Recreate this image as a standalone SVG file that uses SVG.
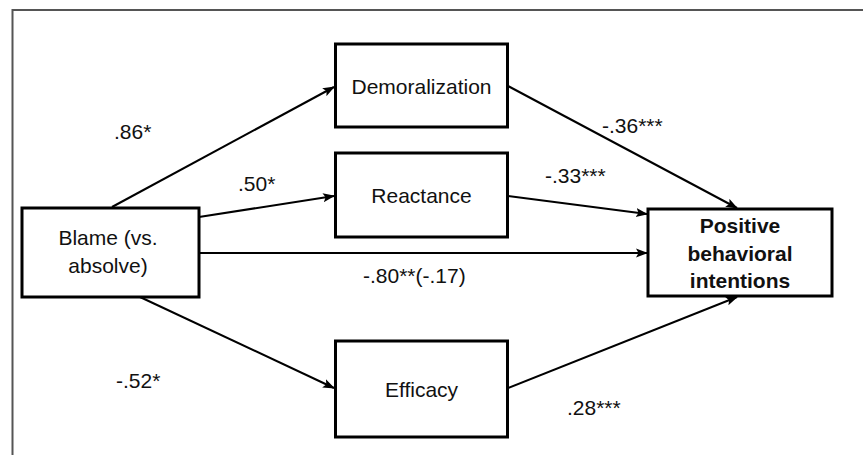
<svg xmlns="http://www.w3.org/2000/svg" width="863" height="455" viewBox="0 0 863 455">
<style>
.box{fill:#fff;stroke:#000;stroke-width:3}
.t{font-family:"Liberation Sans",Arial,sans-serif;font-size:21px;fill:#111;text-anchor:middle}
.b{font-weight:bold}
.lbl{font-family:"Liberation Sans",Arial,sans-serif;font-size:21px;fill:#111}
.c{stroke:#000;stroke-width:2;fill:none;marker-end:url(#ah)}
</style>
<defs>
<marker id="ah" viewBox="0 0 12 10" refX="11" refY="5" markerWidth="12" markerHeight="10" markerUnits="userSpaceOnUse" orient="auto">
<path d="M0,0.5 L12,5 L0,9.5 L2.5,5 z" fill="#000"/>
</marker>
</defs>
<rect width="863" height="455" fill="#fff"/>
<path d="M863,10 H12.5 V455" fill="none" stroke="#555" stroke-width="2"/>
<g id="connectors">
<line class="c" x1="112" y1="207" x2="334" y2="87"/>
<line class="c" x1="199" y1="217" x2="334" y2="196"/>
<line class="c" x1="199" y1="253" x2="647" y2="253"/>
<line class="c" x1="140" y1="297" x2="334" y2="388"/>
<line class="c" x1="508" y1="86" x2="737" y2="208"/>
<line class="c" x1="508" y1="196" x2="647" y2="214"/>
<line class="c" x1="508" y1="388" x2="737" y2="297"/>
<text class="lbl" x="114" y="139">.86*</text>
<text class="lbl" x="238" y="191">.50*</text>
<text class="lbl" x="602" y="133">-.36***</text>
<text class="lbl" x="545" y="183">-.33***</text>
<text class="lbl" x="363" y="283">-.80**(-.17)</text>
<text class="lbl" x="116" y="388">-.52*</text>
<text class="lbl" x="567" y="415">.28***</text>
</g>
<g id="blame">
<rect class="box" x="22" y="208" width="177" height="89"/>
<text class="t" x="108" y="245">Blame (vs.</text>
<text class="t" x="108" y="273">absolve)</text>
</g>
<g id="demoralization">
<rect class="box" x="335.5" y="44" width="172" height="83"/>
<text class="t" x="421.5" y="94">Demoralization</text>
</g>
<g id="reactance">
<rect class="box" x="335.5" y="153" width="172" height="84"/>
<text class="t" x="421.5" y="203">Reactance</text>
</g>
<g id="efficacy">
<rect class="box" x="335.5" y="341" width="172" height="96"/>
<text class="t" x="421.5" y="397">Efficacy</text>
</g>
<g id="positive">
<rect class="box" x="648" y="209" width="184" height="87"/>
<text class="t b" x="740" y="233">Positive</text>
<text class="t b" x="740" y="261">behavioral</text>
<text class="t b" x="740" y="288">intentions</text>
</g>
</svg>
